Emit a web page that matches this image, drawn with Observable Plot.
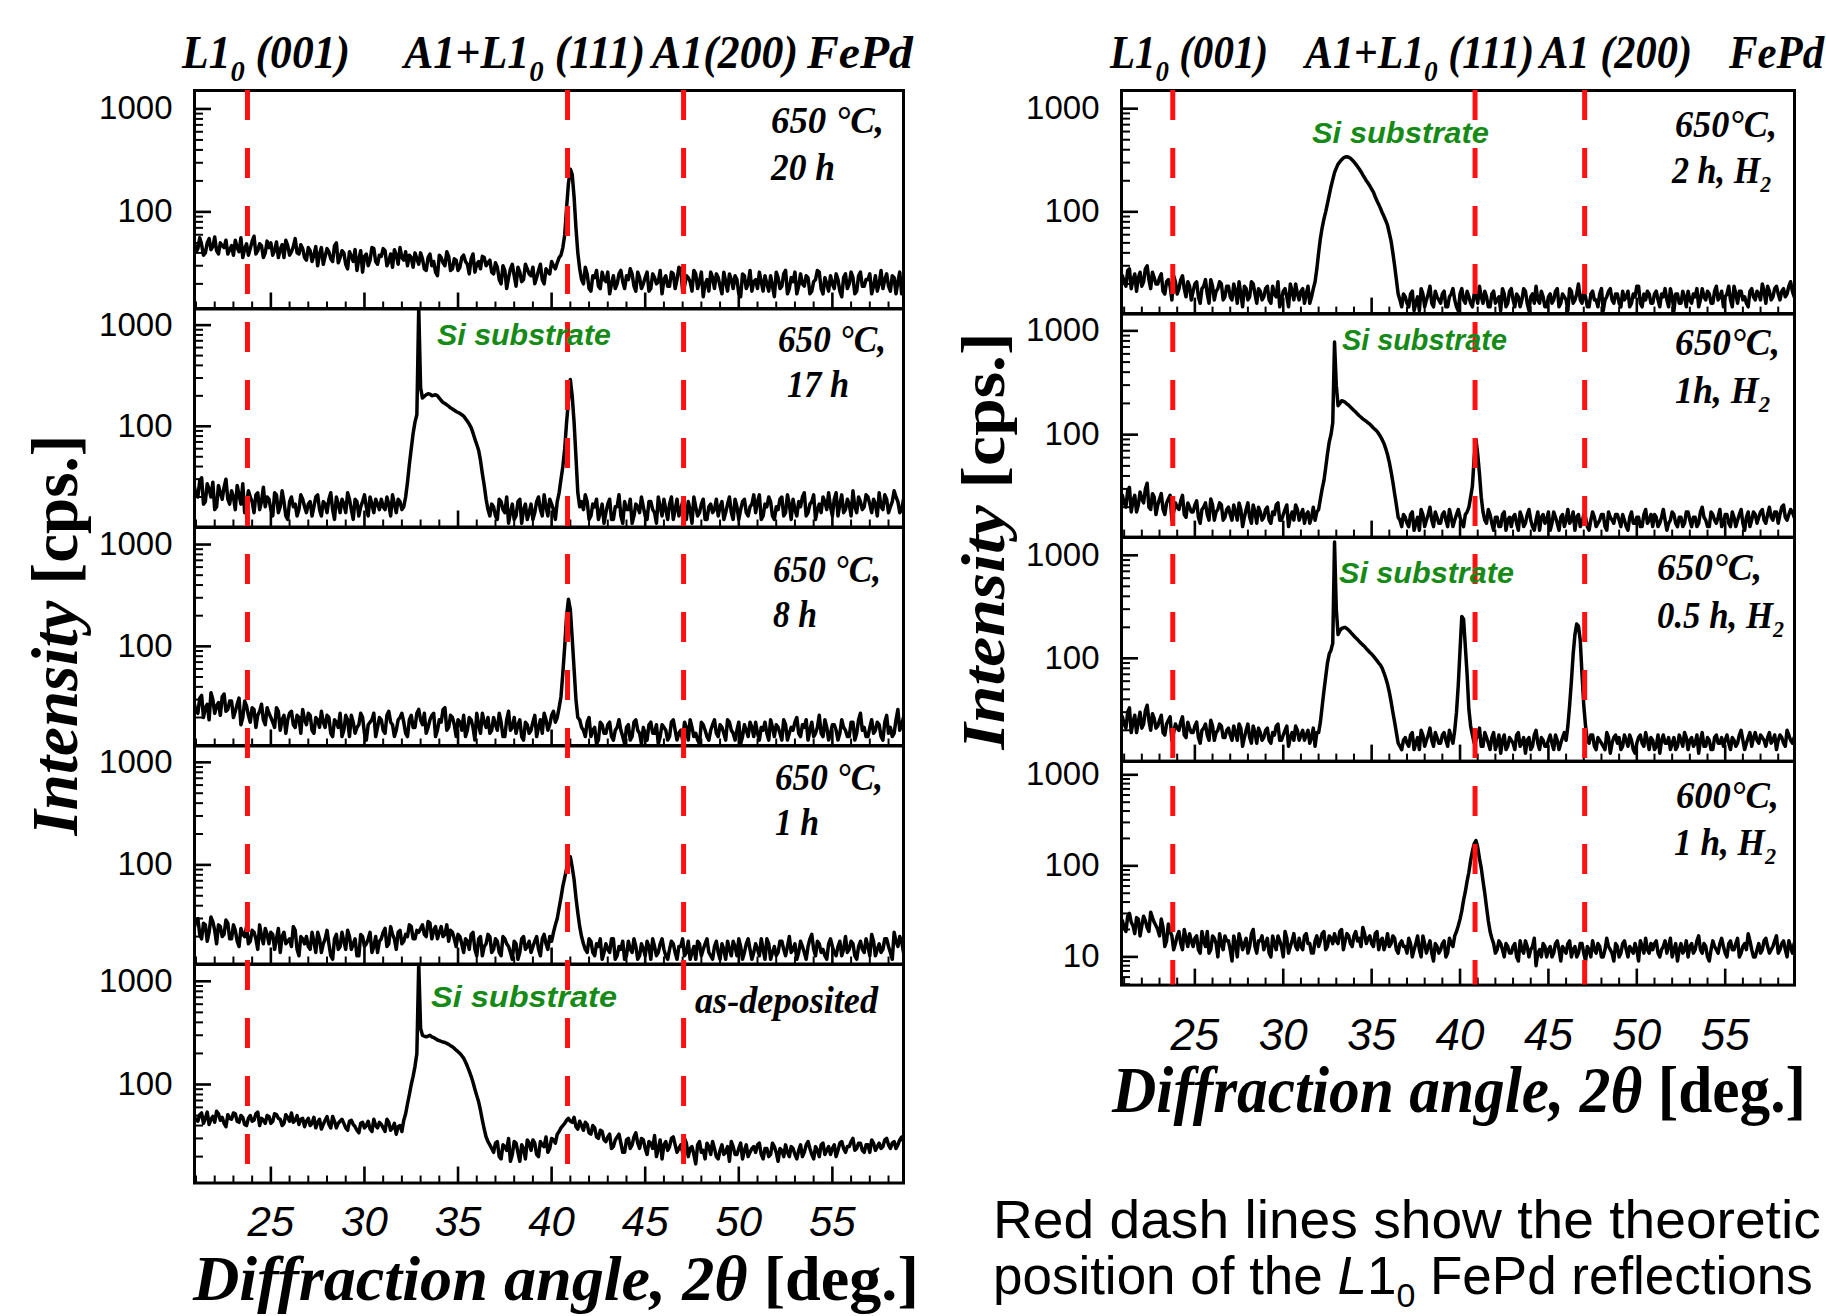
<!DOCTYPE html>
<html>
<head>
<meta charset="utf-8">
<script src="https://cdn.jsdelivr.net/npm/d3@7"></script>
<script src="https://cdn.jsdelivr.net/npm/@observablehq/plot@0.6"></script>
<style>
  html, body { margin: 0; padding: 0; background: #fff; }
  #root { position: relative; width: 1826px; height: 1316px; overflow: hidden; background: #fff; }
  #root text { white-space: pre; }
</style>
</head>
<body>
<div id="root"></div>
<script>
// ---------------- DATA ----------------
// two interleaved 2θ sampling grids (deg): A = 20.9, 21.1, ... 58.9 ; B = 21.0, 21.2, ... 58.8
const angleA = d3.range(191).map(i => Math.round((20.9 + 0.2 * i) * 10) / 10);
const angleB = d3.range(190).map(i => Math.round((21.0 + 0.2 * i) * 10) / 10);

// theoretical L1_0 FePd reflection positions (deg)
const redLines = [23.75, 40.85, 47.05];
const xMajorTicks = [25, 30, 35, 40, 45, 50, 55];
const xMinorTicks = [21,22,23,24,26,27,28,29,31,32,33,34,36,37,38,39,41,42,43,44,46,47,48,49,51,52,53,54,56,57,58];

// ---- left column: 650 °C 20 h ----
const i650_20h_A = [
  52,44,48,40,55,46,42,50,45,39, 47,53,41,36,49,44,58,42,47,40, 45,38,51,43,36,47,41,55,39,44,
  34,42,38,30,45,37,41,33,50,36, 40,28,37,43,35,26,39,34,44,31, 37,42,33,29,38,45,34,30,36,40,
  31,35,27,39,33,24,36,30,37,28, 34,29,38,31,35,26,33,37,30,34, 25,29,20,27,23,31,19,26,22,28,
  24,20,27,22,28,25,30,32,38,60, 190,230,70,28,20,25,17,23,19,26, 21,16,24,20,27,18,22,25,17,23,
  20,26,18,23,21,16,24,19,25,22, 28,19,23,17,25,21,15,22,26,18, 23,16,21,25,18,22,15,24,20,17,
  22,26,17,20,24,15,23,19,27,18, 21,16,25,19,23,17,22,26,16,20, 24,18,22,15,25,20,23,17,26,19,
  22,16,24,20,18,25,17,23,21,16, 19];
const i650_20h_B = [
  41,56,38,50,43,57,39,47,53,43, 38,45,56,44,38,52,39,49,36,52, 50,42,36,48,53,38,46,40,48,36,
  45,33,46,39,31,44,35,47,32,42, 31,41,33,27,42,37,30,45,33,38, 44,30,39,43,31,36,41,38,29,35,
  40,28,36,30,26,38,32,41,27,35, 27,36,33,25,39,31,28,36,32,26, 32,22,30,18,28,24,29,21,31,25,
  29,23,31,20,26,33,28,36,45,110, 260,140,40,22,29,18,24,27,18,22, 26,20,18,25,21,24,28,19,26,18,
  23,17,25,20,27,22,19,26,18,29, 17,24,21,27,18,26,20,17,23,25, 19,26,17,22,24,16,25,18,27,21,
  18,21,24,17,19,26,18,25,16,23, 26,19,20,24,16,21,27,18,23,17, 20,25,17,23,18,26,16,24,19,22,
  25,19,17,27,22,19,24,16,26,20];

// ---- left column: 650 °C 17 h ----
const i650_17h_A = [
  26,20,31,18,24,28,16,22,25,19, 23,15,21,27,17,20,14,22,18,16, 19,13,21,16,18,12,20,17,15,19,
  14,18,16,21,13,17,19,15,20,14, 17,22,15,19,13,18,16,20,14,17, 19,15,17,21,14,18,16,28,60,110,
  1500,190,205,208,203,200,180,168,158,148, 140,134,126,112,97,75,58,34,19,13, 16,12,18,14,11,17,13,19,15,12,
  17,14,20,13,16,19,15,18,30,60, 180,200,50,16,15,18,13,16,12,17, 14,19,12,16,13,18,15,11,17,14,
  16,12,18,14,20,13,15,17,12,19, 15,13,18,11,16,14,19,12,17,15, 13,18,14,20,12,16,15,19,13,17,
  14,21,13,16,18,12,15,20,14,17, 19,13,16,22,14,18,12,17,20,15, 16,19,13,21,15,17,23,14,18,16,
  20,14,17,22,15,19,16,23,18,15, 17];
const i650_17h_B = [
  21,29,17,27,20,15,26,19,30,17, 20,26,17,14,23,18,21,15,25,20, 15,22,14,23,13,18,16,13,21,16,
  17,13,20,15,18,14,22,12,17,19, 14,19,12,18,16,21,13,17,19,15, 16,20,13,17,19,15,20,42,85,130,
  240,198,210,200,205,190,172,163,152,144, 137,130,119,105,86,66,46,26,15,17, 13,19,15,20,14,12,18,11,17,14,
  12,18,15,21,13,17,12,22,40,110, 290,110,22,18,21,12,17,19,14,11, 17,12,16,21,11,15,19,13,16,20,
  13,18,15,11,16,19,12,20,15,13, 18,12,15,20,13,17,12,16,14,19, 16,12,17,14,19,12,18,14,16,21,
  18,12,17,20,13,16,19,13,21,12, 15,18,20,13,17,21,15,14,18,22, 13,22,17,14,19,13,16,20,15,21,
  17,19,13,16,21,14,18,20,14,19];

// ---- left column: 650 °C 8 h ----
const i650_8h_A = [
  28,22,33,25,19,30,26,21,34,24, 29,23,31,20,26,18,24,21,27,17, 22,18,25,15,21,19,23,16,20,24,
  17,21,14,19,23,16,20,13,18,22, 15,19,21,14,17,20,12,18,22,16, 19,14,23,17,15,20,18,13,21,16,
  24,17,14,19,22,15,18,25,16,20, 13,18,21,15,19,12,17,22,16,14, 20,15,18,13,23,16,14,19,12,17,
  15,21,16,14,19,17,23,20,32,100, 290,120,30,19,15,18,13,16,12,17, 14,18,12,16,15,11,17,13,19,14,
  16,12,18,14,11,17,15,13,19,12, 15,18,12,16,14,11,17,13,15,19, 13,16,12,18,14,15,11,17,13,16,
  18,12,15,14,19,13,16,12,17,14, 15,20,13,16,12,18,14,21,13,16, 14,17,12,19,15,13,18,14,22,16,
  13,19,15,17,12,21,16,14,24,17, 15];
const i650_8h_B = [
  23,31,20,27,35,22,28,32,23,29, 20,27,17,29,21,25,16,23,19,25, 20,16,23,19,14,22,17,21,14,19,
  22,15,20,16,18,21,14,19,16,13, 21,13,18,16,22,14,17,19,13,20, 15,21,18,13,19,22,14,19,16,22,
  19,22,16,21,13,19,24,15,21,17, 19,15,13,20,16,22,14,18,20,15, 17,22,13,19,15,20,17,13,18,14,
  18,13,19,22,15,21,18,25,55,200, 230,60,20,16,13,20,15,11,18,14, 17,13,15,19,13,16,12,18,15,11,
  13,17,14,17,13,16,12,18,15,14, 12,16,19,13,12,18,15,12,17,14, 17,14,19,15,12,18,13,15,18,13,
  14,16,18,12,16,17,14,19,12,16, 18,14,17,19,15,13,16,14,19,12, 17,15,14,16,13,18,12,19,15,13,
  16,14,18,13,18,14,13,19,15,20];

// ---- left column: 650 °C 1 h ----
const i650_1h_A = [
  24,30,19,26,22,28,17,25,21,27, 19,23,16,21,25,18,22,15,20,24, 17,21,19,14,22,18,16,23,13,19,
  20,15,18,22,14,19,17,12,21,16, 18,23,15,19,13,20,17,22,16,14, 19,24,17,21,15,23,18,20,25,19,
  22,26,20,27,23,19,25,21,18,22, 16,20,14,18,21,15,19,13,17,20, 15,18,13,19,16,12,17,14,20,16,
  14,18,15,19,17,20,22,30,48,75, 112,95,48,25,17,14,18,13,16,12, 17,14,19,13,15,12,18,14,16,13,
  15,18,12,16,14,19,13,15,17,12, 16,13,18,14,12,17,15,19,13,16, 14,17,12,15,18,13,16,14,19,12,
  17,13,15,19,12,16,14,18,13,20, 15,12,18,14,16,21,13,17,15,12, 19,14,16,13,20,15,17,12,18,14,
  16,21,13,17,15,19,14,22,16,18, 15];
const i650_1h_B = [
  29,21,27,18,31,23,26,20,29,19, 26,18,24,20,17,23,19,26,17,21, 22,15,24,20,17,19,25,15,20,17,
  16,22,14,19,17,23,13,19,15,22, 15,20,17,13,21,16,19,14,20,18, 22,16,25,19,22,17,21,26,19,23,
  24,21,28,19,25,22,20,26,23,19, 21,17,19,15,22,13,20,16,21,14, 19,14,20,17,14,18,12,19,15,18,
  16,20,13,21,15,18,26,38,62,92, 120,72,34,20,15,19,14,17,19,14, 15,19,12,16,18,13,15,19,12,17,
  13,16,19,13,17,15,12,18,14,16, 19,14,12,16,18,13,17,14,12,18, 12,15,18,13,16,19,12,17,15,14,
  15,19,12,17,14,13,18,15,16,14, 17,14,16,12,19,15,18,14,13,17, 16,13,18,15,14,18,13,16,15,19,
  13,18,15,14,19,16,12,18,20,14];

// ---- left column: as-deposited ----
const iAsDep_A = [
  50,44,53,47,41,49,55,45,42,51, 46,52,43,48,40,50,45,54,47,42, 49,44,51,46,42,48,53,45,41,47,
  44,40,48,43,37,45,41,49,38,44, 42,36,45,39,34,43,40,37,46,38, 41,35,43,38,33,40,45,65,100,150,
  1500,300,290,300,285,270,262,255,245,232, 215,200,180,150,120,90,68,45,31,26, 22,28,19,25,30,21,27,18,24,29,
  23,27,20,26,31,24,29,33,38,42, 47,43,39,44,36,41,33,38,30,35, 28,33,25,31,27,22,30,26,34,24,
  29,21,27,32,24,19,28,25,31,22, 26,30,20,25,17,28,23,27,21,24, 19,26,22,18,25,21,27,23,20,24,
  22,27,19,24,21,25,18,23,26,20, 24,19,26,22,28,21,25,20,27,23, 21,26,23,28,22,25,30,24,27,22,
  26,29,23,27,25,30,24,28,26,31, 27];
const iAsDep_B = [
  45,51,42,54,46,43,52,48,39,47, 53,44,50,41,47,44,52,40,45,50, 42,52,47,40,51,44,43,50,46,39,
  47,42,38,46,41,49,38,44,42,46, 38,44,41,36,42,38,44,35,40,43, 38,46,36,42,39,35,52,80,120,200,
  350,295,295,290,278,266,258,250,238,224, 208,190,165,135,105,78,56,37,28,24, 27,20,26,23,18,28,22,26,19,27,
  29,21,28,25,22,30,27,35,40,45, 44,48,37,40,43,34,40,31,36,29, 31,24,29,33,22,29,24,31,27,30,
  24,28,24,20,29,26,23,30,26,24, 22,27,24,21,26,22,19,25,28,20, 23,21,25,28,21,24,19,26,22,25,
  26,21,24,20,27,22,24,20,22,25, 21,23,20,26,24,19,23,26,21,25, 24,20,27,24,25,28,23,27,23,26,
  22,27,25,24,29,26,27,24,29,28];

// ---- right column: 650 °C 2 h H2 ----
const i650_2hH2_A = [
  24,19,28,22,17,26,21,30,18,23, 20,25,16,22,14,21,18,24,15,19, 17,21,13,19,16,22,14,18,20,15,
  19,14,17,21,12,18,15,20,13,17, 15,19,13,16,21,14,18,12,17,20, 14,18,16,13,18,28,55,85,120,175,
  240,290,320,340,338,318,290,260,228,200, 178,155,128,108,90,74,52,30,16,12, 15,12,17,13,11,16,14,19,12,15,
  13,17,12,16,14,11,18,13,15,12, 16,19,13,15,12,17,14,11,16,13, 18,12,15,14,17,11,16,19,13,15,
  12,16,14,18,13,15,11,17,14,20, 13,15,12,17,14,16,11,15,18,13, 16,12,14,17,13,15,19,12,14,16,
  13,17,12,15,14,18,11,16,13,15, 17,13,15,12,18,14,16,13,19,15, 12,16,14,19,13,17,15,12,18,14,
  16,20,13,17,15,19,14,18,16,21, 15];
const i650_2hH2_B = [
  21,27,18,25,23,19,28,22,26,20, 23,17,21,19,24,16,22,18,21,14, 20,15,18,22,13,19,17,21,14,19,
  15,20,13,16,19,14,21,16,18,14, 18,14,19,15,12,17,15,20,14,16, 17,13,19,15,21,40,70,100,145,205,
  265,305,332,342,330,305,275,245,214,190, 166,140,118,98,82,62,40,22,14,16, 13,16,11,15,18,12,16,13,17,14,
  16,12,15,18,12,16,14,17,13,16, 13,15,17,12,16,13,15,18,12,17, 14,16,12,18,13,15,13,14,17,12,
  15,13,17,12,16,14,18,13,16,14, 17,12,16,14,12,18,14,17,14,16, 13,17,15,12,16,19,13,16,17,13,
  16,14,16,18,12,15,16,13,17,12, 14,16,18,14,15,17,13,17,14,17, 15,19,12,16,17,14,13,17,15,17,
  14,17,19,14,18,16,17,15,19,17];

// ---- right column: 650 °C 1 h H2 ----
const i650_1hH2_A = [
  26,20,31,23,18,28,22,34,19,25, 21,27,17,24,15,22,19,26,16,20, 18,23,14,20,17,24,15,19,21,16,
  20,15,18,22,13,19,16,21,14,18, 16,20,14,17,22,15,19,13,18,21, 15,19,17,14,20,18,24,36,65,100,
  780,190,212,205,192,178,165,152,142,134, 126,116,108,96,82,64,44,27,16,13, 16,13,18,14,12,17,15,20,13,16,
  14,18,13,16,15,19,14,17,20,32, 90,42,18,14,17,12,16,13,18,15, 13,17,12,16,14,19,13,15,12,17,
  15,12,18,14,16,13,19,15,12,17, 14,16,12,18,13,15,17,12,16,14, 17,13,15,12,18,14,16,13,19,15,
  13,16,14,19,12,15,17,13,16,14, 18,13,16,14,20,15,13,17,14,19, 14,17,13,16,15,19,12,18,15,17,
  16,19,14,20,15,18,17,21,15,19, 16];
const i650_1hH2_B = [
  22,29,18,26,21,24,30,20,27,17, 24,19,22,26,18,20,23,17,22,18, 21,16,19,22,15,21,18,22,15,19,
  17,21,15,19,16,22,14,18,20,15, 19,15,18,21,15,17,21,16,15,19, 17,14,18,16,15,19,30,48,85,130,
  300,200,210,198,185,171,158,147,138,130, 121,112,102,89,73,54,35,21,15,17, 14,17,12,16,19,13,17,15,18,14,
  17,15,19,13,17,16,13,18,25,60, 65,25,15,19,14,16,13,17,12,16, 16,14,18,13,17,15,12,18,16,14,
  18,14,16,12,17,15,14,18,16,13, 17,13,15,16,14,17,13,18,15,17, 15,17,13,16,14,16,13,17,14,17,
  17,13,16,15,14,18,14,16,13,18, 15,16,13,18,16,13,18,15,16,13, 17,14,18,13,17,14,16,13,18,14,
  18,15,17,16,18,14,20,16,17,18];

// ---- right column: 650 °C 0.5 h H2 ----
const i650_05hH2_A = [
  27,21,33,24,19,30,23,35,20,26, 22,28,18,25,16,23,20,27,17,21, 19,24,15,21,18,25,16,20,22,17,
  21,16,19,23,14,20,17,22,15,19, 17,21,15,18,23,16,20,14,19,22, 16,20,18,15,21,19,24,48,90,120,
  1350,170,195,200,188,172,158,146,135,124, 114,105,95,86,72,56,38,24,15,13, 17,14,19,15,13,18,16,21,14,17,
  15,19,14,17,20,55,255,130,32,18, 16,21,14,17,13,19,15,12,18,14, 16,13,19,15,12,17,14,20,13,16,
  14,18,13,16,15,19,22,60,170,205, 70,22,15,18,13,16,14,19,12,17, 15,13,18,14,16,12,17,15,19,13,
  16,14,12,18,15,13,17,14,16,19, 13,17,15,12,19,14,16,13,18,15, 14,18,13,16,15,20,13,17,14,19,
  15,17,14,19,16,13,18,15,20,16, 17];
const i650_05hH2_B = [
  23,30,19,28,24,21,31,25,29,21, 25,19,23,27,19,21,24,18,24,19, 22,17,20,23,16,22,19,23,17,20,
  18,22,16,21,17,23,15,19,21,16, 20,16,19,22,16,18,22,17,16,20, 18,16,20,17,14,19,34,66,110,140,
  300,185,198,194,180,165,152,140,130,119, 110,100,90,80,64,47,30,19,14,16, 15,18,13,17,20,14,18,16,19,15,
  18,16,20,15,30,120,240,70,22,15, 18,14,19,15,17,13,18,16,13,17, 15,18,14,17,16,13,18,15,17,14,
  16,15,18,13,17,16,35,110,215,150, 35,16,18,14,17,15,13,17,15,18, 17,14,16,18,13,15,18,14,16,17,
  13,18,16,15,17,15,13,18,14,17, 16,14,18,16,14,17,13,17,15,17, 16,15,17,14,18,16,15,19,17,16,
  18,16,17,15,18,16,17,14,18,15];

// ---- right column: 600 °C 1 h H2 ----
const i600_1hH2_A = [
  25,19,30,22,27,17,28,21,31,24, 20,26,13,23,17,14,19,12,16,18, 13,17,11,15,19,12,16,10,14,17,
  15,9,14,18,12,16,13,20,11,15, 12,16,10,14,17,13,19,11,15,13, 16,12,18,14,11,17,15,19,13,16,
  18,14,20,15,17,13,19,16,21,14, 17,13,19,15,12,18,14,16,11,15, 13,16,10,14,12,17,11,15,9,13,
  12,15,11,14,17,22,32,52,85,145, 190,120,68,35,19,14,12,14,10,13, 11,14,9,12,15,10,13,8,12,14,
  10,13,11,15,9,12,14,10,13,11, 14,9,12,15,11,13,10,16,12,9, 13,11,15,10,12,14,9,13,16,11,
  12,15,10,13,11,16,12,9,14,12, 10,14,12,17,11,13,9,15,12,14, 13,10,15,12,16,11,14,18,12,10,
  14,12,16,11,13,17,12,15,10,13, 14];
const i600_1hH2_B = [
  21,28,24,18,26,22,25,19,27,22, 17,21,15,19,12,17,14,20,13,15, 16,12,19,13,11,17,14,18,12,15,
  12,17,10,15,14,11,18,13,15,17, 14,11,17,12,15,10,16,13,18,12, 13,17,14,11,15,13,18,12,17,14,
  15,19,12,18,14,17,15,13,18,16, 14,18,12,16,14,13,17,12,14,13, 11,14,12,17,10,14,13,11,14,11,
  14,10,16,13,19,26,42,68,115,175, 160,95,50,25,16,11,15,12,14,11, 13,10,15,11,13,12,16,11,10,13,
  12,10,14,12,13,11,15,12,10,14, 11,13,10,12,14,10,12,13,11,14, 10,14,12,13,11,12,15,11,12,14,
  14,11,12,15,13,10,14,12,11,15, 13,11,15,12,14,10,12,13,11,16, 11,14,12,14,10,13,12,15,10,12,
  11,15,13,12,15,11,14,12,15,11];

// panel y-domains (cps)
const leftDomains  = [[11.4, 1510], [10.1, 1460], [10.5, 1470], [10.8, 1460], [11.1, 1455]];
const rightDomains = [[10.2, 1500], [10.3, 1470], [10.05, 1490], [4.9, 1400]];
const leftSeries  = [[i650_20h_A, i650_20h_B], [i650_17h_A, i650_17h_B], [i650_8h_A, i650_8h_B], [i650_1h_A, i650_1h_B], [iAsDep_A, iAsDep_B]];
const rightSeries = [[i650_2hH2_A, i650_2hH2_B], [i650_1hH2_A, i650_1hH2_B], [i650_05hH2_A, i650_05hH2_B], [i600_1hH2_A, i600_1hH2_B]];

// ---------------- DRAWING ----------------
const SERIF = "'Liberation Serif', 'Times New Roman', serif";
const SANS = "'Liberation Sans', Arial, sans-serif";
const root = document.getElementById("root");

function toRows([A, B]) {
  const rows = [];
  A.forEach((v, i) => { if (i < angleA.length) rows.push({a: angleA[i], v}); });
  B.forEach((v, i) => { if (i < angleB.length) rows.push({a: angleB[i], v}); });
  return rows.sort((p, q) => p.a - q.a);
}

function place(el, left, top) {
  el.style.position = "absolute";
  el.style.left = left + "px";
  el.style.top = top + "px";
  el.style.maxWidth = "none";
  root.appendChild(el);
}

function logTicks(lo, hi) {
  const major = [], minor = [];
  for (let e = Math.floor(Math.log10(lo)); e <= Math.ceil(Math.log10(hi)); e++) {
    const p = Math.pow(10, e);
    if (p >= lo && p <= hi) major.push(p);
    for (let k = 2; k <= 9; k++) { const v = k * p; if (v >= lo && v <= hi) minor.push(v); }
  }
  return {major, minor};
}

function drawPanel({series, yDomain, frameLeft, frameWidth, top, height, xDomain, svgLeft, last, xLabelPad, xLabelSize}) {
  const mt = 12, mb = last ? 90 : 12, ml = frameLeft - svgLeft, mr = 16;
  const {major, minor} = logTicks(yDomain[0], yDomain[1]);
  const rows = toRows(series);
  const xMin = xMinorTicks.filter(d => d >= xDomain[0] && d <= xDomain[1]);
  const marks = [
    Plot.line(rows, {x: "a", y: "v", stroke: "#000", strokeWidth: 3.5, strokeLinejoin: "round", clip: true}),
    Plot.axisY({ticks: minor, tickSize: -9, fill: "none", label: null, strokeWidth: 2, stroke: "#000"}),
    Plot.axisY({ticks: major, tickSize: -17, fill: "none", label: null, strokeWidth: 2.6, stroke: "#000"}),
    Plot.axisY({ticks: major, tickSize: 0, tickPadding: 22, tickFormat: d => String(d), fontSize: 33, fontFamily: SANS, fill: "#000", label: null}),
    Plot.axisX({ticks: xMin, tickSize: -7, fill: "none", label: null, strokeWidth: 2, stroke: "#000"}),
    Plot.axisX({ticks: xMajorTicks, tickSize: -16, fill: "none", label: null, strokeWidth: 2.6, stroke: "#000"}),
    Plot.frame({stroke: "#000", strokeWidth: 3})
  ];
  if (last) {
    marks.push(Plot.axisX({ticks: xMajorTicks, tickSize: 0, tickPadding: xLabelPad, tickFormat: d => String(d),
      fontSize: xLabelSize, fontStyle: "italic", fontFamily: SANS, fill: "#000", label: null}));
  }
  const svg = Plot.plot({
    width: ml + frameWidth + mr, height: mt + height + mb,
    marginTop: mt, marginBottom: mb, marginLeft: ml, marginRight: mr,
    x: {domain: xDomain},
    y: {type: "log", domain: yDomain},
    style: {background: "transparent", overflow: "visible"},
    marks
  });
  place(svg, svgLeft, top - mt);
}

function drawRed({frameLeft, frameWidth, top, totalH, svgLeft, xDomain}) {
  const mt = 12, mb = 12, ml = frameLeft - svgLeft, mr = 16;
  const svg = Plot.plot({
    width: ml + frameWidth + mr, height: mt + totalH + mb,
    marginTop: mt, marginBottom: mb, marginLeft: ml, marginRight: mr,
    x: {domain: xDomain, axis: null},
    style: {background: "transparent", overflow: "visible"},
    marks: [Plot.ruleX(redLines, {stroke: "#ff1111", strokeWidth: 5, strokeDasharray: "30,28"})]
  });
  place(svg, svgLeft, top - mt);
}

// left column
const L = {frameLeft: 194, frameWidth: 709, top: 89.7, panelH: 218.5, xDomain: [20.92, 58.8], svgLeft: 0};
leftSeries.forEach((s, k) => drawPanel({
  series: s, yDomain: leftDomains[k], frameLeft: L.frameLeft, frameWidth: L.frameWidth,
  top: L.top + k * L.panelH, height: L.panelH, xDomain: L.xDomain, svgLeft: L.svgLeft,
  last: k === leftSeries.length - 1, xLabelPad: 23, xLabelSize: 42
}));
drawRed({frameLeft: L.frameLeft, frameWidth: L.frameWidth, top: L.top, totalH: L.panelH * 5, svgLeft: L.svgLeft, xDomain: L.xDomain});

// right column
const R = {frameLeft: 1121, frameWidth: 673, top: 89.7, panelH: 223.6, xDomain: [20.85, 58.92], svgLeft: 1000};
rightSeries.forEach((s, k) => drawPanel({
  series: s, yDomain: rightDomains[k], frameLeft: R.frameLeft, frameWidth: R.frameWidth,
  top: R.top + k * R.panelH, height: R.panelH, xDomain: R.xDomain, svgLeft: R.svgLeft,
  last: k === rightSeries.length - 1, xLabelPad: 34, xLabelSize: 44
}));
drawRed({frameLeft: R.frameLeft, frameWidth: R.frameWidth, top: R.top, totalH: R.panelH * 4, svgLeft: R.svgLeft, xDomain: R.xDomain});

// ---------------- TEXT OVERLAY ----------------
const ov = d3.create("svg").attr("width", 1826).attr("height", 1316)
  .style("position", "absolute").style("left", "0px").style("top", "0px");
root.appendChild(ov.node());

function addText({x, y, w, parts, size, family = SERIF, weight = "bold", style = "italic", fill = "#000", anchor = "start", rotate = 0}) {
  const t = ov.append("text").attr("font-family", family).attr("font-size", size)
    .attr("font-weight", weight).attr("font-style", style).attr("fill", fill).attr("text-anchor", anchor);
  for (const p of parts) {
    const s = t.append("tspan").text(p.t);
    if (p.style) s.attr("font-style", p.style);
    if (p.weight) s.attr("font-weight", p.weight);
    if (p.size) s.attr("font-size", p.size);
    if (p.dy) s.attr("dy", p.dy);
  }
  const bw = t.node().getBBox().width;
  const k = w && bw ? w / bw : 1;
  t.attr("transform", `translate(${x},${y})${rotate ? ` rotate(${rotate})` : ""} scale(${k},1)`);
}
const L10 = (pre, post) => [{t: pre}, {t: "0", size: 30, dy: 13}, {t: post, dy: -13}];

// reflection labels
[
  {x: 182, w: 169, parts: L10("L1", " (001)")},
  {x: 404, w: 244, parts: L10("A1+L1", " (111)")},
  {x: 652, w: 149, parts: [{t: "A1(200)"}]},
  {x: 807, w: 108, parts: [{t: "FePd"}]},
  {x: 1110, w: 159, parts: L10("L1", " (001)")},
  {x: 1305, w: 232, parts: L10("A1+L1", " (111)")},
  {x: 1540, w: 155, parts: [{t: "A1 (200)"}]},
  {x: 1729, w: 97, parts: [{t: "FePd"}]}
].forEach(d => addText({...d, y: 68, size: 46}));

// axis titles
addText({x: 77, y: 635, w: 402, size: 66, anchor: "middle", rotate: -90, parts: [{t: "Intensity"}, {t: " [cps.]", style: "normal"}]});
addText({x: 1004, y: 541, w: 418, size: 62, anchor: "middle", rotate: -90, parts: [{t: "Intensity"}, {t: " [cps.]", style: "normal"}]});
addText({x: 193, y: 1300, w: 727, size: 63, parts: [{t: "Diffraction angle, 2θ"}, {t: " [deg.]", style: "normal"}]});
addText({x: 1112, y: 1112, w: 695, size: 65, parts: [{t: "Diffraction angle, 2θ"}, {t: " [deg.]", style: "normal"}]});

// sample annotations
const H2 = pre => [{t: pre}, {t: "2", size: 24, dy: 9}];
[
  {x: 771, y: 133, w: 113, parts: [{t: "650 °C,"}]},
  {x: 771, y: 180, w: 65, parts: [{t: "20 h"}]},
  {x: 778, y: 352, w: 108, parts: [{t: "650 °C,"}]},
  {x: 787, y: 397, w: 62, parts: [{t: "17 h"}]},
  {x: 773, y: 582, w: 108, parts: [{t: "650 °C,"}]},
  {x: 773, y: 627, w: 44, parts: [{t: "8 h"}]},
  {x: 775, y: 790, w: 108, parts: [{t: "650 °C,"}]},
  {x: 775, y: 835, w: 44, parts: [{t: "1 h"}]},
  {x: 695, y: 1013, w: 184, parts: [{t: "as-deposited"}]},
  {x: 1675, y: 137, w: 102, parts: [{t: "650°C,"}]},
  {x: 1672, y: 183, w: 100, parts: H2("2 h, H")},
  {x: 1675, y: 355, w: 105, parts: [{t: "650°C,"}]},
  {x: 1675, y: 403, w: 95, parts: H2("1h, H")},
  {x: 1657, y: 580, w: 105, parts: [{t: "650°C,"}]},
  {x: 1657, y: 628, w: 127, parts: H2("0.5 h, H")},
  {x: 1676, y: 808, w: 103, parts: [{t: "600°C,"}]},
  {x: 1674, y: 855, w: 102, parts: H2("1 h, H")}
].forEach(d => addText({...d, size: 38}));

// Si substrate labels
[
  {x: 437, y: 345, w: 174}, {x: 431, y: 1007, w: 186},
  {x: 1312, y: 143, w: 177}, {x: 1342, y: 350, w: 165}, {x: 1339, y: 583, w: 175}
].forEach(d => addText({...d, size: 30, family: SANS, fill: "#168a16", parts: [{t: "Si substrate"}]}));

// caption
addText({x: 993, y: 1238, w: 828, size: 53, family: SANS, weight: "normal", style: "normal",
  parts: [{t: "Red dash lines show the theoretic"}]});
addText({x: 993, y: 1294, w: 820, size: 53, family: SANS, weight: "normal", style: "normal",
  parts: [{t: "position of the "}, {t: "L", style: "italic"}, {t: "1"}, {t: "0", size: 34, dy: 13}, {t: " FePd reflections", dy: -13}]});
</script>
</body>
</html>
